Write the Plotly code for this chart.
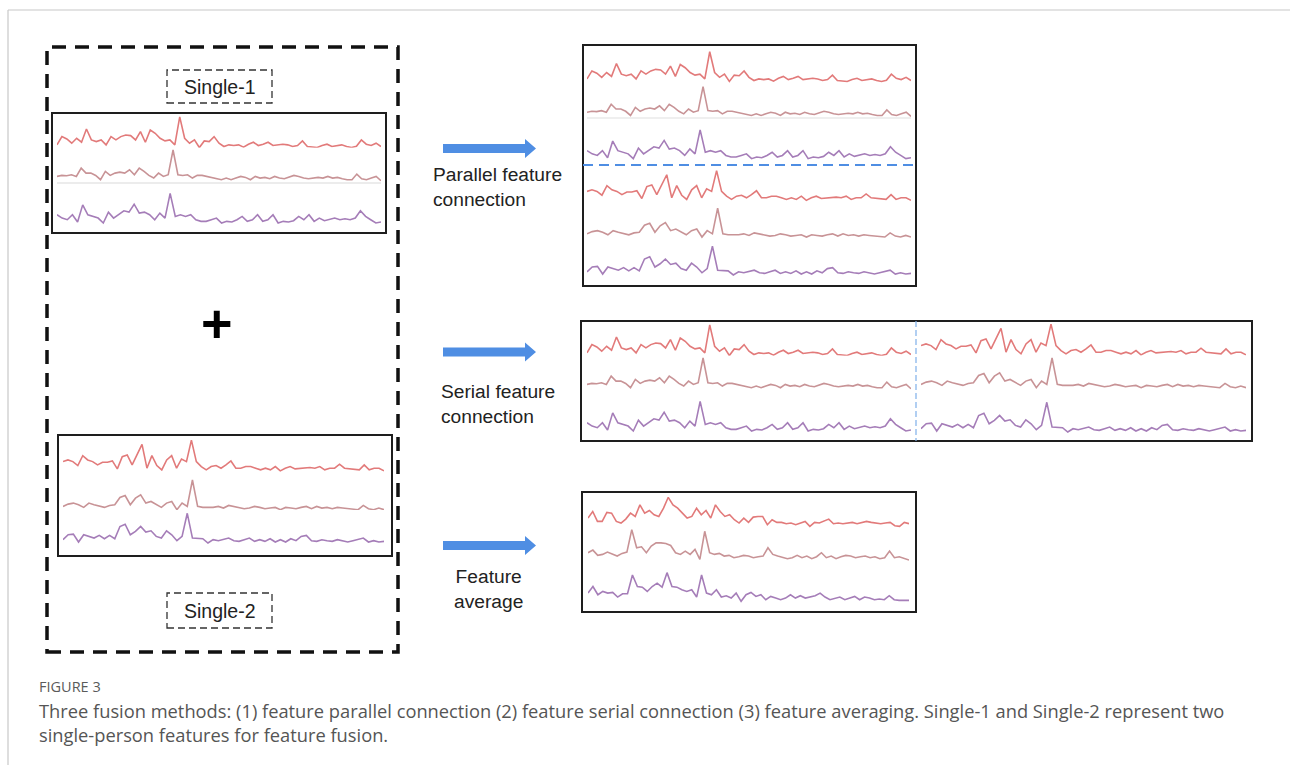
import plotly.graph_objects as go

W, H = 1290, 765

# ---- data: feature curves (relative heights) ----
s1_red = [0.8, 3.3, 2.6, 1.3, 2.8, 1.6, 5.6, 2.3, 1.8, 2.3, 0.8, 3.3, 2.3, 3.3, 3.8, 3.6, 2.3, 4.8, 1.6, 5.3,
          4.3, 2.8, 2.0, 2.3, 0.8, 9.3, 2.8, 1.3, 2.3, 0.0, 2.0, 1.8, 3.3, 1.3, 0.3, 0.8, 0.6, 0.8, 0.1, 1.0,
          1.6, 0.6, 1.0, 1.6, 0.6, 0.8, 1.0, 0.8, 0.3, 0.6, 2.0, 0.3, 0.1, 0.0, 0.6, 1.0, 0.3, 0.6, 0.8, 0.3,
          0.0, 0.4, 2.3, 1.0, 0.6, 1.3, 0.3]
s1_rose = [1.3, 1.6, 1.5, 1.8, 1.3, 3.8, 2.3, 2.3, 1.6, 0.3, 2.8, 1.6, 2.3, 2.6, 2.3, 3.3, 1.8, 3.8, 2.8, 1.6,
           0.8, 2.3, 1.3, 1.8, 9.3, 1.8, 1.6, 1.8, 0.8, 1.6, 1.6, 1.3, 0.8, 0.6, 0.3, 0.8, 0.3, 0.8, 1.3, 1.0,
           0.3, 1.3, 0.8, 1.0, 0.6, 1.3, 0.8, 0.6, 1.0, 1.6, 1.3, 0.8, 0.6, 0.8, 1.0, 0.8, 1.3, 0.8, 1.0, 0.6,
           0.3, 0.3, 2.0, 0.6, 0.3, 0.8, 1.3, 0.0]
s1_violet = [2.8, 1.8, 1.3, 2.8, 0.6, 5.8, 2.8, 2.3, 1.8, 0.3, 3.6, 1.8, 2.8, 4.0, 3.6, 6.0, 3.3, 3.6, 2.8, 1.3,
             3.3, 1.8, 9.3, 2.3, 2.8, 2.3, 2.8, 1.3, 0.8, 0.8, 1.3, 1.8, 0.3, 0.8, 0.6, 1.3, 2.3, 0.8, 1.3, 2.8,
             0.8, 1.3, 2.8, 0.3, 0.8, 0.6, 1.0, 2.3, 1.3, 2.8, 0.8, 1.8, 1.0, 1.3, 1.8, 1.3, 1.6, 1.3, 1.8, 4.0,
             2.3, 1.3, 0.3, 0.6]

s2_red = [3.0, 3.5, 3.0, 1.8, 4.8, 3.5, 3.0, 2.0, 2.8, 2.8, 3.2, 0.8, 4.5, 5.0, 2.0, 5.0, 8.2, 1.0, 4.8, 1.8,
          0.5, 3.5, 4.8, 1.0, 3.8, 3.0, 9.5, 3.0, 1.5, 0.5, 1.5, 1.8, 1.0, 2.0, 3.2, 1.0, 1.0, 1.5, 1.5, 1.0,
          0.5, 1.0, 0.5, 1.5, 0.2, 1.0, 1.5, 0.8, 1.0, 1.0, 1.2, 1.0, 1.5, 0.5, 1.0, 1.0, 2.2, 1.0, 0.8, 0.5,
          0.5, 2.0, 0.5, 1.0, 1.0, 0.2]
s2_rose = [1.3, 2.0, 2.3, 1.8, 1.0, 2.3, 1.8, 1.3, 1.0, 1.6, 1.8, 4.0, 4.6, 1.8, 3.8, 4.8, 2.3, 2.8, 1.8, 1.0,
           2.3, 2.8, 0.3, 2.3, 1.3, 9.3, 1.3, 1.0, 1.0, 1.0, 1.3, 0.8, 1.6, 1.3, 0.8, 0.6, 0.8, 1.3, 1.0, 0.6,
           0.8, 1.0, 0.3, 1.0, 0.8, 0.6, 1.0, 1.3, 0.6, 1.3, 0.8, 1.0, 0.6, 1.0, 0.8, 0.6, 0.3, 0.3, 1.6, 0.6,
           0.3, 0.8, 0.3]
s2_violet = [1.0, 2.5, 2.7, 0.3, 2.5, 2.0, 1.5, 2.3, 1.3, 2.3, 1.3, 5.0, 5.7, 2.5, 3.5, 5.0, 3.3, 3.7, 2.0, 1.5,
             3.7, 2.5, 0.7, 2.0, 9.0, 1.5, 1.3, 1.3, 0.0, 1.0, 0.7, 1.0, 1.5, 0.7, 0.5, 1.0, 1.5, 0.5, 1.0, 0.5,
             1.3, 0.3, 1.0, 0.3, 1.3, 0.7, 2.0, 2.3, 0.7, 0.5, 1.0, 0.7, 0.5, 1.0, 0.7, 0.3, 0.7, 1.0, 1.5, 0.3,
             0.7, 0.3, 0.5]

avg_red = [2.7, 4.7, 1.7, 1.7, 4.4, 4.2, 1.7, 1.2, 2.4, 4.2, 3.2, 6.7, 4.2, 5.0, 3.7, 3.2, 5.7, 9.0, 6.7, 5.7,
           4.2, 2.7, 3.2, 5.7, 3.7, 5.0, 2.7, 6.7, 4.7, 3.2, 3.7, 2.2, 1.2, 2.7, 1.4, 3.0, 3.2, 3.2, 0.7, 2.2,
           1.4, 1.4, 1.0, 1.2, 0.7, 1.2, 1.7, 0.2, 1.4, 1.2, 1.7, 2.4, 1.0, 1.2, 1.0, 1.2, 1.4, 1.0, 1.4, 1.7,
           1.4, 1.2, 1.0, 1.2, 1.4, 0.4, 0.2, 1.4, 1.0]
avg_rose = [2.5, 3.3, 1.7, 2.0, 2.7, 2.0, 1.5, 2.3, 2.7, 9.5, 4.0, 4.3, 2.5, 4.5, 5.5, 5.5, 5.3, 4.7, 2.5, 2.0,
            3.0, 2.0, 3.5, 0.5, 9.0, 2.5, 2.0, 2.3, 1.5, 1.7, 1.0, 1.3, 1.7, 1.5, 1.0, 1.3, 1.5, 4.0, 2.0, 1.5,
            1.0, 0.7, 1.0, 1.7, 1.0, 1.5, 0.7, 1.3, 2.5, 1.0, 1.5, 0.7, 1.3, 1.7, 1.5, 1.0, 1.3, 1.5, 1.0, 1.3,
            0.7, 1.0, 3.0, 1.0, 1.3, 0.7, 0.3]
avg_violet = [3.0, 5.0, 2.5, 3.5, 3.0, 3.2, 1.8, 2.8, 2.8, 8.5, 5.0, 4.8, 3.5, 5.0, 6.0, 4.8, 9.2, 5.0, 4.8, 4.0,
              3.5, 4.0, 1.8, 8.5, 3.0, 2.5, 4.0, 1.8, 2.2, 1.5, 3.0, 0.5, 2.5, 3.2, 2.0, 2.5, 1.0, 2.0, 1.5, 1.0,
              1.5, 2.5, 1.5, 2.2, 1.5, 1.8, 2.2, 3.0, 1.8, 1.0, 1.5, 1.8, 1.0, 1.5, 2.0, 1.0, 1.8, 1.5, 1.0, 1.2,
              1.0, 2.2, 1.0, 0.8, 0.8, 0.8]

labels = ["Single-1", "Single-2"]
method_labels = ["Parallel feature<br>connection", "Serial feature<br>connection", "Feature<br>average"]
caption_title = "FIGURE 3"
caption_text = ("Three fusion methods: (1) feature parallel connection (2) feature serial connection (3) feature "
                "averaging. Single-1 and Single-2 represent two<br>single-person features for feature fusion.")

RED, ROSE, VIOLET = "#e27a7a", "#c89396", "#a57db8"
BLUE = "#4f8ee3"


def X(px):
    return px / W


def Y(py):
    return 1 - py / H


fig = go.Figure()
layout = {}
axis_i = [0]


def band(series, x0, x1, base, color, unit=3.3):
    axis_i[0] += 1
    i = axis_i[0]
    sfx = "" if i == 1 else str(i)
    fig.add_trace(go.Scatter(x=list(range(len(series))), y=series, mode="lines",
                             line=dict(color=color, width=1.6), xaxis="x" + sfx, yaxis="y" + sfx,
                             hoverinfo="skip", showlegend=False))
    layout["xaxis" + sfx] = dict(domain=[X(x0), X(x1)], range=[0, len(series) - 1], visible=False,
                                 anchor="y" + sfx, fixedrange=True)
    layout["yaxis" + sfx] = dict(domain=[Y(base + unit), Y(base - 10 * unit)], range=[-1, 10], visible=False,
                                 anchor="x" + sfx, fixedrange=True)


# Single-1 panel
band(s1_red, 57, 381, 147.5, RED)
band(s1_rose, 57, 381, 180.7, ROSE)
band(s1_violet, 57, 381, 224, VIOLET)
# Single-2 panel
band(s2_red, 63, 384, 471.5, RED)
band(s2_rose, 63, 384, 510.7, ROSE)
band(s2_violet, 63, 384, 543, VIOLET)
# Parallel connection
band(s1_red, 587, 911, 81.5, RED, 3.2)
band(s1_rose, 587, 911, 116.4, ROSE, 3.2)
band(s1_violet, 587, 911, 159.6, VIOLET, 3.2)
band(s2_red, 587, 911, 201, RED, 3.2)
band(s2_rose, 587, 911, 238, ROSE, 3.2)
band(s2_violet, 587, 911, 275, VIOLET, 3.2)
# Serial connection
band(s1_red, 587, 911, 355.5, RED)
band(s1_rose, 587, 911, 388.7, ROSE)
band(s1_violet, 587, 911, 432, VIOLET)
band(s2_red, 921, 1246, 355.5, RED)
band(s2_rose, 921, 1246, 388.7, ROSE)
band(s2_violet, 921, 1246, 432, VIOLET)
# Feature average
band(avg_red, 588, 909, 527, RED)
band(avg_rose, 588, 909, 561, ROSE)
band(avg_violet, 588, 909, 603, VIOLET)

shapes = []


def rect(x0, y0, x1, y1, color="#1e1e1e", width=2, dash="solid"):
    shapes.append(dict(type="rect", xref="paper", yref="paper", x0=X(x0), x1=X(x1), y0=Y(y1), y1=Y(y0),
                       line=dict(color=color, width=width, dash=dash), fillcolor="rgba(0,0,0,0)"))


def seg(x0, y0, x1, y1, color, width, dash="solid"):
    shapes.append(dict(type="line", xref="paper", yref="paper", x0=X(x0), x1=X(x1), y0=Y(y0), y1=Y(y1),
                       line=dict(color=color, width=width, dash=dash)))


# card border
seg(8, 10, 1290, 10, "#c8c8c8", 1.2)
seg(8, 10, 8, 765, "#c8c8c8", 1.2)

# big dashed group
rect(47, 47, 398, 652, color="#111111", width=3.5, dash="14px,9px")
# label boxes
rect(167, 70, 272, 103, color="#333333", width=1.3, dash="7px,4px")
rect(167, 593, 272, 628, color="#333333", width=1.3, dash="7px,4px")

# faint separators
seg(57, 183, 381, 183, "#ececec", 2)
seg(587, 118, 911, 118, "#efefef", 2)

# panels
rect(52, 113, 386, 233)
rect(58, 435, 392, 556)
rect(583, 45, 916, 286)
rect(581, 321, 1252, 441)
rect(582, 492, 916, 612)

# blue dashed separators
seg(583, 165, 916, 165, BLUE, 1.8, "10px,6px")
seg(916, 321, 916, 441, "#7fb0ea", 1.2, "6px,3px")

# arrows
for cy in (148.5, 352, 545.5):
    path = ("M {a},{b} L {c},{b} L {c},{d} L {e},{f} L {c},{g} L {c},{h} L {a},{h} Z").format(
        a=X(443), b=Y(cy - 4.5), c=X(525), d=Y(cy - 9.5), e=X(536), f=Y(cy), g=Y(cy + 9.5), h=Y(cy + 4.5))
    shapes.append(dict(type="path", xref="paper", yref="paper", path=path, fillcolor=BLUE,
                       line=dict(width=0)))

annotations = []


def text(x, y, s, size, color="#222222", xanchor="left", family="Liberation Sans, Arial", align="left"):
    annotations.append(dict(x=X(x), y=Y(y), xref="paper", yref="paper", text=s, showarrow=False,
                            xanchor=xanchor, yanchor="middle", align=align,
                            font=dict(size=size, color=color, family=family)))


text(220, 87, labels[0], 19.5, xanchor="center")
text(220, 611, labels[1], 19.5, xanchor="center")
text(431, 187, method_labels[0], 19.2)
text(439, 404, method_labels[1], 19.2)
text(489, 589, method_labels[2], 19.2, xanchor="center", align="center")
text(217, 323, "<b>+</b>", 54, color="#000000", xanchor="center")

text(37, 686, caption_title, 14.5, color="#5a5a5a", family="Open Sans")
text(37, 722, caption_text, 18.3, color="#555555", family="Open Sans")

fig.update_layout(width=W, height=H, margin=dict(l=0, r=0, t=0, b=0, pad=0), paper_bgcolor="white",
                  plot_bgcolor="white", showlegend=False, shapes=shapes, annotations=annotations, **layout)

fig.write_html("out.html", config={"displayModeBar": False, "staticPlot": True},
               post_script="document.body.style.margin='0';")
